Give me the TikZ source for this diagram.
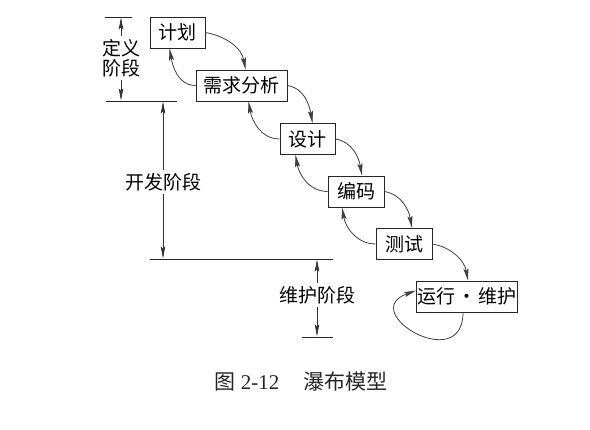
\documentclass[tikz,border=0pt]{standalone}
\usepackage{fontspec}
\setmainfont{Liberation Serif}
\newfontfamily\cjk{Noto Sans CJK SC}
\usetikzlibrary{arrows.meta,calc}
\begin{document}
\begin{tikzpicture}[x=1pt,y=1pt,
  box/.style={draw=black!85,line width=0.9pt,minimum height=31pt,inner xsep=2pt,inner ysep=0pt,font=\cjk\fontsize{19}{21}\selectfont},
  flow/.style={draw=black!75,line width=0.8pt,-{Stealth[length=12pt,width=5pt,inset=2pt]}},
  fwd/.style={flow,out=-10,in=100},
  bwd/.style={flow,out=180,in=-80},
  dim/.style={draw=black!80,line width=0.8pt,-{Stealth[length=12pt,width=4.5pt,inset=2pt]}},
  rule/.style={draw=black!85,line width=0.8pt},
  lbl/.style={font=\cjk\fontsize{19}{20}\selectfont,align=center}]
\useasboundingbox (0,0) rectangle (590,430);

% process boxes
\node[box,minimum width=55pt]  (P) at (177.5,397.5) {计划};
\node[box,minimum width=91pt]  (R) at (241.5,344.5) {需求分析};
\node[box,minimum width=55pt]  (D) at (307.5,291)   {设计};
\node[box,minimum width=56pt]  (C) at (356,238.5)   {编码};
\node[box,minimum width=56pt]  (T) at (404,186)     {测试};
\node[box,minimum width=100pt,inner xsep=1pt] (M) at (467,133.5) {运行\hspace{2pt}·\hspace{2pt}维护};

% forward arrows
\draw[fwd] (P.east) to ([xshift=4pt]R.north);
\draw[fwd] (R.east) to ([xshift=5pt]D.north);
\draw[fwd] (D.east) to ([xshift=6pt]C.north);
\draw[fwd] (C.east) to ([xshift=8pt]T.north);
\draw[fwd] (T.east) to ([xshift=1pt]M.north);

% feedback arrows
\draw[bwd] (R.west) to ([xshift=-8pt]P.south);
\draw[bwd] (D.west) to ([xshift=7pt]R.south);
\draw[bwd] (C.west) to ([xshift=-12pt]D.south);
\draw[bwd] (T.west) to ([xshift=-14pt]C.south);

% self loop
\draw[flow] ([xshift=-4pt]M.south) to[out=-90,in=200,distance=63pt] ([yshift=6pt]M.west);

% phase markers
\coordinate (a1) at (105,413);
\coordinate (a2) at (132,413);
\coordinate (b1) at (106,329);
\coordinate (b2) at (177,329);
\coordinate (c1) at (150,171);
\coordinate (c2) at (333,171);
\coordinate (d1) at (302,93);
\coordinate (d2) at (333,93);
\draw[rule] (a1) -- (a2);
\draw[rule] (b1) -- (b2);
\draw[rule] (c1) -- (c2);
\draw[rule] (d1) -- (d2);

\node[lbl] (L1) at (121,372) {定义\\阶段};
\coordinate (L1t) at (121,412.5);
\coordinate (L1b) at (121,329.5);
\draw[dim] (L1.north) -- (L1t);
\draw[dim] (L1.south) -- (L1b);

\node[lbl] (L2) at (163,248) {开发阶段};
\coordinate (L2t) at (163,328.5);
\coordinate (L2b) at (163,171.5);
\draw[dim] (L2.north) -- (L2t);
\draw[dim] (L2.south) -- (L2b);

\node[lbl] (L3) at (317,135) {维护阶段};
\coordinate (L3t) at (317,170.5);
\coordinate (L3b) at (317,93.5);
\draw[dim] (L3.north) -- (L3t);
\draw[dim] (L3.south) -- (L3b);

% caption
\node[font=\fontsize{21}{24}\selectfont,text=black!85] (cap) at (301,48) {{\cjk 图} 2-12\hspace{24pt}{\cjk 瀑布模型}};
\end{tikzpicture}
\end{document}
